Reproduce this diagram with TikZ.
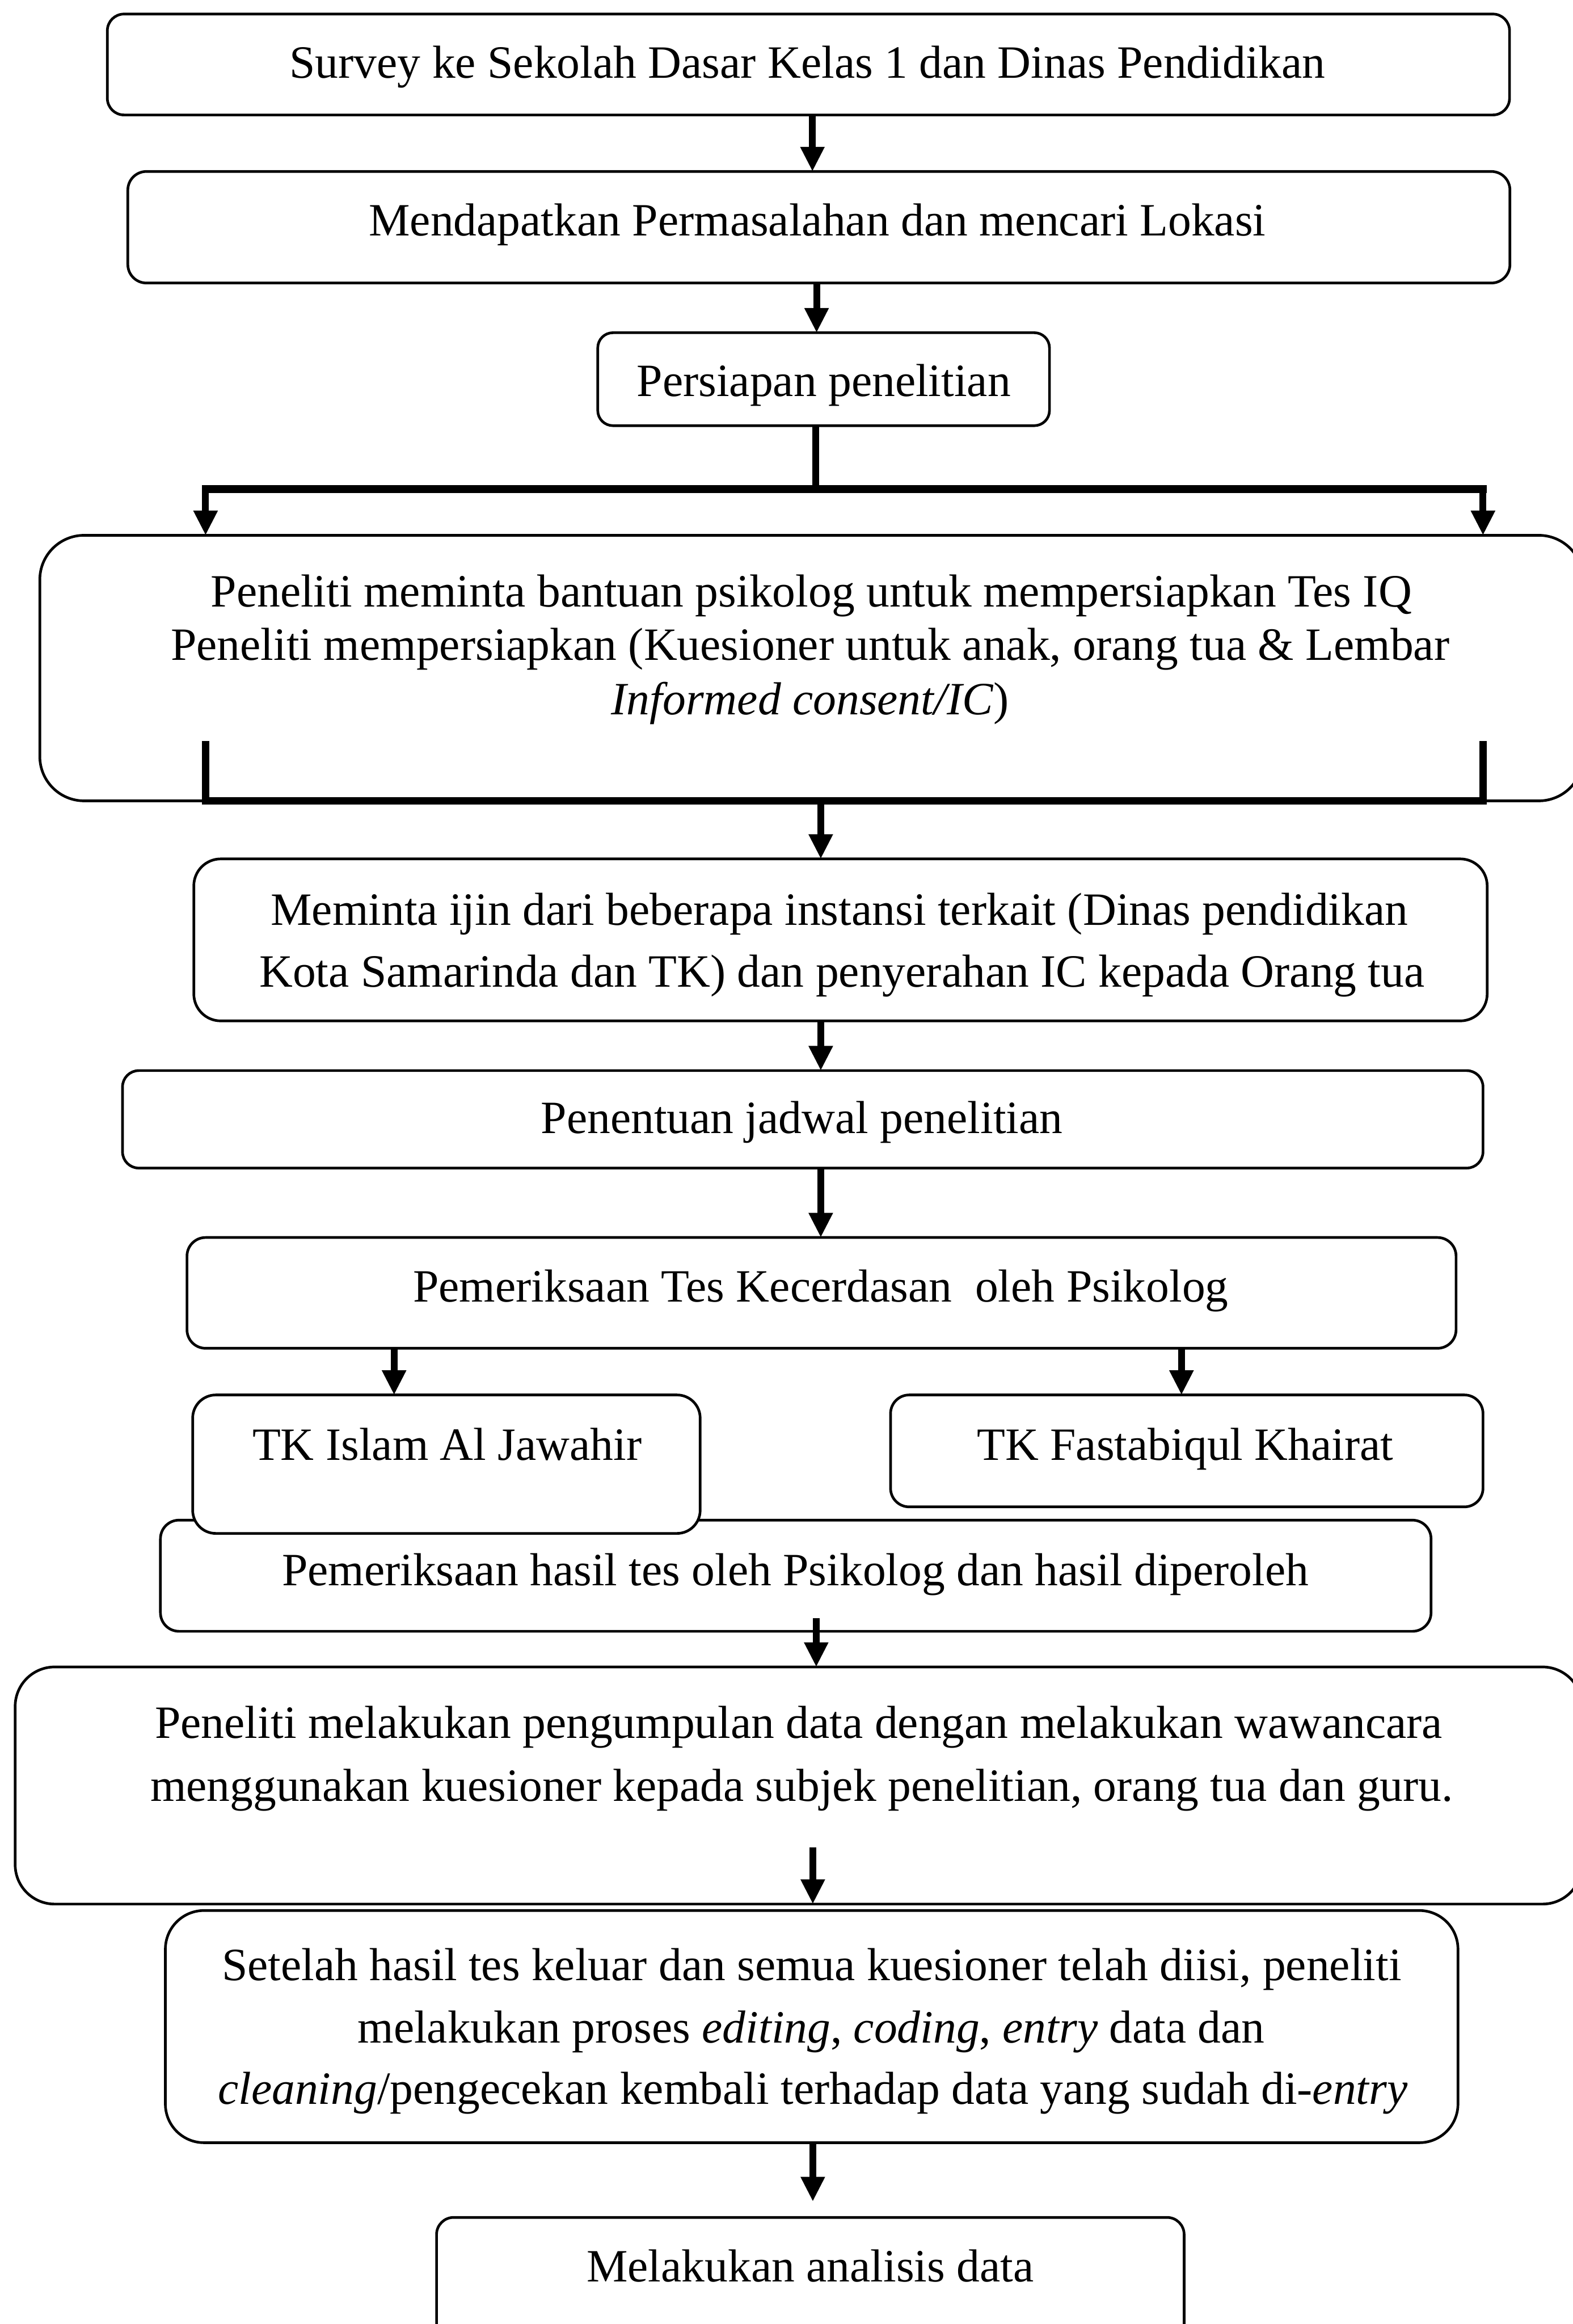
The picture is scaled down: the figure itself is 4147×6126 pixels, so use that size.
\documentclass[tikz,border=0pt]{standalone}
\usepackage{fontspec}
\setmainfont{Liberation Serif}
\usetikzlibrary{arrows.meta,fit}
\begin{document}
\begin{tikzpicture}[x=0.1pt,y=-0.1pt,
  box/.style={draw, line width=0.7pt, fill=white, inner sep=0pt, outer sep=0pt},
  txt/.style={inner sep=0pt, anchor=base, font=\fontsize{12.2pt}{14pt}\selectfont},
  arr/.style={line width=1.8pt, -{Triangle[width=6pt,length=6.5pt]}},
  bar/.style={line width=2pt, line cap=rect}]
\useasboundingbox (0,0) rectangle (4147,6126);
\clip (0,0) rectangle (4147,6126);

% boxes
\node[box, rounded corners=4.4pt, fit={(283,37)(3980,303)}] (b1) {};
\node[box, rounded corners=4.9pt, fit={(337,452)(3981,746)}] (b2) {};
\node[box, rounded corners=4.0pt, fit={(1576,877)(2767,1122)}] (b3) {};
\node[box, rounded corners=11.7pt, fit={(105,1411)(4174,2111)}] (b4) {};
\node[box, rounded corners=7.1pt, fit={(511,2264)(3921,2691)}] (b5) {};
\node[box, rounded corners=4.3pt, fit={(323,2822)(3910,3079)}] (b6) {};
\node[box, rounded corners=4.9pt, fit={(493,3262)(3839,3554)}] (b7) {};
\node[box, rounded corners=4.9pt, fit={(423,4007)(3773,4300)}] (b10) {};
\node[box, rounded corners=6.1pt, fit={(508,3677)(1846,4042)}] (b8) {};
\node[box, rounded corners=4.9pt, fit={(2348,3677)(3910,3972)}] (b9) {};
\node[box, rounded corners=10.4pt, fit={(40,4394)(4171,5019)}] (b11) {};
\node[box, rounded corners=10.2pt, fit={(436,5036)(3844,5648)}] (b12) {};
\node[box, rounded corners=4.5pt, fit={(1151,5845)(3122,6240)}] (b13) {};

% texts
\node[txt] (t1) at (2129,205) {Survey ke Sekolah Dasar Kelas 1 dan Dinas Pendidikan};
\node[txt] (t2) at (2155,622) {Mendapatkan Permasalahan dan mencari Lokasi};
\node[txt] (t3) at (2172,1045) {Persiapan penelitian};
\node[txt] (t4a) at (2139,1600) {Peneliti meminta bantuan psikolog untuk mempersiapkan Tes IQ};
\node[txt] (t4b) at (2136,1740) {Peneliti mempersiapkan (Kuesioner untuk anak, orang tua \& Lembar};
\node[txt] (t4c) at (2136,1883) {\textit{Informed consent/IC})};
\node[txt] (t5a) at (2213,2439) {Meminta ijin dari beberapa instansi terkait (Dinas pendidikan};
\node[txt] (t5b) at (2220,2602) {Kota Samarinda dan TK) dan penyerahan IC kepada Orang tua};
\node[txt] (t6) at (2114,2988) {Penentuan jadwal penelitian};
\node[txt] (t7) at (2164,3431) {Pemeriksaan Tes Kecerdasan\ \ oleh Psikolog};
\node[txt] (t8) at (1179,3849) {TK Islam Al Jawahir};
\node[txt] (t9) at (3125,3849) {TK Fastabiqul Khairat};
\node[txt] (t10) at (2097,4179) {Pemeriksaan hasil tes oleh Psikolog dan hasil diperoleh};
\node[txt] (t11a) at (2106,4582) {Peneliti melakukan pengumpulan data dengan melakukan wawancara};
\node[txt] (t11b) at (2114,4747) {menggunakan kuesioner kepada subjek penelitian, orang tua dan guru.};
\node[txt] (t12a) at (2140,5220) {Setelah hasil tes keluar dan semua kuesioner telah diisi, peneliti};
\node[txt] (t12b) at (2139,5385) {melakukan proses \textit{editing}, \textit{coding}, \textit{entry} data dan};
\node[txt] (t12c) at (2143,5546) {\textit{cleaning}/pengecekan kembali terhadap data yang sudah di-\textit{entry}};
\node[txt] (t13) at (2136,6015) {Melakukan analisis data};

% connector positions
\coordinate (xa) at (2142,0);
\coordinate (xb) at (2153,0);
\coordinate (bt) at (2150,1289);
\coordinate (btl) at (542,1289);
\coordinate (btr) at (3910,1289);
\coordinate (bl1) at (542,1963);
\coordinate (br1) at (3910,1963);
\coordinate (xc) at (2164,0);
\coordinate (x8) at (1039,0);
\coordinate (x9) at (3115,0);
\coordinate (s10) at (2152,4266);
\coordinate (s11) at (2143,4870);
\coordinate (t13e) at (2143,5803);

% connectors
\draw[arr] (b1.south -| xa) -- (b2.north -| xa);
\draw[arr] (b2.south -| xb) -- (b3.north -| xb);
\draw[line width=1.8pt] (b3.south -| bt) -- (bt);
\draw[bar] (btl) -- (btr);
\draw[arr] (btl) -- (b4.north -| btl);
\draw[arr] (btr) -- (b4.north -| btr);
\draw[bar] (bl1) -- (b4.south -| bl1) -- (b4.south -| br1) -- (br1);
\draw[arr] (b4.south -| xc) -- (b5.north -| xc);
\draw[arr] (b5.south -| xc) -- (b6.north -| xc);
\draw[arr] (b6.south -| xc) -- (b7.north -| xc);
\draw[arr] (b7.south -| x8) -- (b8.north -| x8);
\draw[arr] (b7.south -| x9) -- (b9.north -| x9);
\draw[arr] (s10) -- (b11.north -| s10);
\draw[arr] (s11) -- (b11.south -| s11);
\draw[arr] (b12.south -| t13e) -- (t13e);
\end{tikzpicture}
\end{document}
